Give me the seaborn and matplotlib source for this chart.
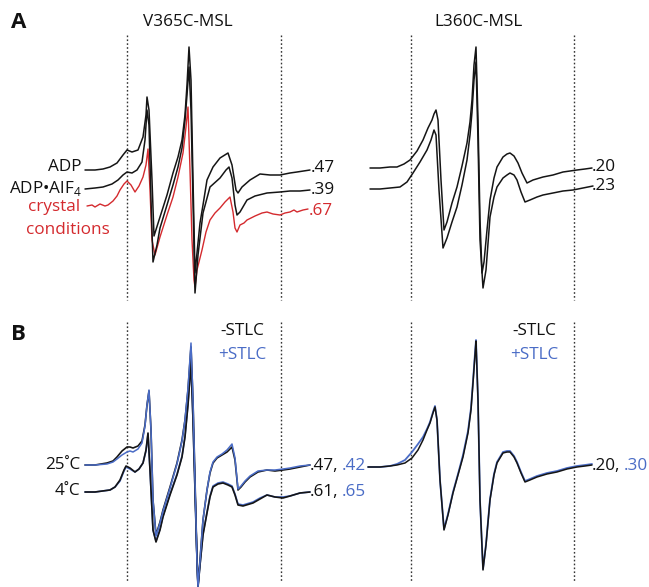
import matplotlib
matplotlib.use("Agg")
import matplotlib.pyplot as plt
import seaborn as sns

# -------------------------------
# Spectra (field px, signal px)
# -------------------------------

# A, V365C-MSL
adp_x = [85, 95, 103, 110, 117, 123, 127, 132, 138, 143, 146, 147, 149, 152, 154, 160, 167, 173, 178, 182,
         185, 187, 189, 191, 193, 195, 200, 203, 207, 213, 220, 228, 232, 236, 238, 242, 250, 260, 270, 280,
         290, 297, 310]
adp_y = [170, 170, 169, 167, 163, 155, 150, 152, 150, 137, 115, 97, 110, 180, 236, 217, 195, 173, 157, 140,
         115, 85, 47, 80, 180, 273, 223, 205, 180, 167, 158, 153, 165, 190, 193, 187, 180, 174, 175, 175,
         173, 172, 170]

alf_x = [85, 95, 103, 112, 118, 123, 127, 132, 137, 142, 145, 147, 149, 151, 153, 157, 160, 167, 173, 178,
         182, 185, 187, 189, 191, 193, 195, 198, 203, 210, 220, 226, 229, 232, 235, 237, 240, 247, 255, 267,
         280, 290, 300, 310]
alf_y = [189, 188, 187, 184, 180, 175, 172, 173, 170, 162, 140, 110, 125, 200, 262, 245, 228, 205, 185, 167,
         148, 120, 95, 67, 110, 200, 293, 255, 213, 187, 178, 170, 167, 178, 205, 215, 212, 200, 196, 193,
         192, 191, 191, 190]

cry_x = [87, 92, 95, 100, 105, 108, 113, 117, 120, 124, 127, 131, 135, 139, 143, 146, 148, 150, 152, 155,
         160, 167, 173, 178, 183, 186, 188, 190, 192, 194, 195, 197, 200, 202, 206, 210, 215, 220, 225,
         230, 233, 235, 237, 240, 244, 247, 251, 255, 262, 267, 273, 280, 285, 290, 294, 297, 303, 308]
cry_y = [206, 205, 207, 204, 206, 205, 201, 196, 190, 184, 181, 185, 192, 186, 177, 165, 149, 190, 240, 255,
         237, 215, 197, 177, 153, 127, 107, 170, 240, 280, 287, 270, 258, 250, 232, 220, 213, 208, 202,
         197, 212, 228, 232, 225, 223, 220, 218, 216, 213, 212, 214, 215, 213, 212, 210, 212, 210, 209]

# A, L360C-MSL
l360_top_x = [370, 380, 390, 397, 404, 410, 417, 423, 428, 432, 434, 436, 438, 441, 444, 447, 452, 457, 462, 467,
              470, 472, 474, 476, 478, 480, 482, 484, 487, 490, 494, 497, 503, 507, 510, 514, 518, 522, 527, 533,
              543, 553, 563, 570, 577, 585, 592]
l360_top_y = [168, 168, 167, 167, 164, 160, 151, 140, 128, 120, 114, 110, 120, 180, 230, 222, 203, 187, 166, 143,
              122, 100, 65, 47, 120, 220, 273, 262, 230, 200, 178, 167, 157, 154, 153, 156, 163, 173, 183, 180,
              177, 175, 172, 171, 170, 169, 168]

l360_low_x = [370, 380, 390, 400, 407, 413, 420, 427, 431, 434, 436, 439, 443, 447, 452, 457, 462, 467, 470, 472,
              474, 476, 478, 480, 483, 486, 490, 494, 497, 503, 507, 510, 514, 517, 521, 525, 530, 537, 543, 553,
              563, 573, 583, 593]
l360_low_y = [189, 189, 188, 187, 182, 173, 162, 150, 140, 130, 135, 190, 248, 238, 222, 207, 185, 160, 135, 112,
              80, 62, 140, 240, 288, 270, 217, 197, 187, 178, 175, 173, 175, 180, 192, 202, 200, 197, 195, 193,
              191, 190, 188, 186]

# B, V365C-MSL
v25_x = [85, 95, 107, 113, 117, 122, 127, 130, 133, 138, 142, 145, 147, 149, 151, 153, 156, 160, 163, 170,
         177, 182, 185, 188, 191, 193, 195, 197, 198, 200, 203, 207, 210, 213, 217, 222, 227, 232, 235, 238,
         241, 245, 250, 258, 267, 275, 283, 290, 300, 310]
v25_minus_y = [465, 465, 463, 461, 457, 451, 447, 447, 448, 446, 441, 425, 405, 391, 430, 500, 535, 522, 510, 487,
               463, 440, 420, 390, 347, 400, 480, 560, 585, 560, 520, 490, 473, 463, 458, 455, 452, 447, 460, 490,
               487, 482, 477, 472, 470, 471, 470, 469, 467, 465]
v25_plus_y = [465, 465, 464, 462, 459, 455, 452, 451, 452, 449, 443, 426, 405, 390, 430, 500, 536, 523, 511, 488,
              464, 441, 420, 388, 343, 400, 482, 562, 587, 561, 520, 490, 472, 462, 457, 454, 450, 444, 458, 489,
              486, 481, 476, 471, 470, 470, 469, 468, 466, 465]

v4_x = [85, 95, 110, 115, 120, 124, 126, 130, 135, 139, 143, 146, 148, 150, 153, 156, 160, 163, 170, 177,
        182, 185, 188, 191, 193, 195, 197, 198, 200, 203, 207, 210, 213, 218, 223, 228, 232, 235, 238, 243,
        253, 260, 267, 275, 283, 290, 300, 310]
v4_minus_y = [492, 492, 490, 487, 480, 470, 466, 468, 472, 469, 463, 450, 433, 470, 530, 542, 530, 517, 495, 475,
              457, 437, 405, 363, 420, 490, 560, 587, 565, 535, 513, 497, 487, 484, 483, 485, 487, 495, 505, 506,
              503, 499, 495, 497, 498, 496, 493, 492]
v4_plus_y = [492, 492, 490, 487, 481, 471, 467, 469, 472, 469, 463, 451, 434, 470, 530, 541, 529, 516, 494, 474,
             456, 436, 404, 362, 420, 491, 561, 587, 565, 534, 512, 496, 486, 483, 482, 484, 486, 494, 504, 505,
             502, 498, 495, 497, 497, 496, 493, 492]

# B, L360C-MSL
l360b_x = [368, 380, 390, 397, 405, 412, 418, 423, 427, 430, 433, 435, 437, 440, 444, 448, 453, 458, 463, 468,
           471, 473, 475, 476, 478, 480, 483, 486, 490, 494, 497, 503, 507, 510, 514, 517, 521, 525, 530, 537,
           547, 557, 567, 577, 585, 592]
l360b_minus_y = [467, 467, 466, 465, 463, 458, 450, 440, 430, 423, 413, 407, 420, 480, 530, 515, 493, 475, 457, 433,
                 410, 383, 355, 341, 400, 500, 570, 545, 500, 475, 463, 453, 452, 452, 457, 463, 473, 482, 480, 477,
                 474, 472, 469, 467, 466, 465]
l360b_plus_y = [467, 467, 466, 464, 460, 452, 444, 437, 429, 422, 412, 406, 420, 480, 529, 514, 492, 474, 455, 431,
                408, 381, 353, 340, 400, 500, 569, 544, 499, 474, 462, 452, 451, 451, 456, 462, 472, 481, 479, 476,
                473, 471, 468, 466, 465, 464]

# field markers (dotted lines)
marker_fields_left = [127, 281]
marker_fields_right = [411, 574]

# -------------------------------
# Style
# -------------------------------

sns.set_style("white")
plt.rcParams['font.family'] = ['Open Sans', 'DejaVu Sans']
plt.rcParams['mathtext.fontset'] = 'custom'
plt.rcParams['mathtext.rm'] = 'Open Sans'
plt.rcParams['text.color'] = '#111111'

RED = '#d42a2e'
BLUE = '#4a6cc6'
INK = '#151515'

fig = plt.figure(figsize=(6.49, 5.87), dpi=100)
ax = fig.add_axes([0, 0, 1, 1])
ax.set_xlim(0, 649)
ax.set_ylim(587, 0)
ax.axis('off')


def spectrum(x, y, color, lw):
    sns.lineplot(x=x, y=y, ax=ax, sort=False, estimator=None, color=color, linewidth=lw)


# dotted field markers
for top, bottom in [(35, 300), (322, 582)]:
    ax.vlines(marker_fields_left + marker_fields_right, top, bottom,
              colors='#333333', linestyles=(0, (1.2, 1.6)), linewidth=1.0)

# -------------------------------
# Panel A
# -------------------------------

spectrum(cry_x, cry_y, RED, 1.0)
spectrum(alf_x, alf_y, INK, 1.1)
spectrum(adp_x, adp_y, INK, 1.1)
spectrum(l360_low_x, l360_low_y, INK, 1.1)
spectrum(l360_top_x, l360_top_y, INK, 1.1)

fs = 12.3
ax.text(11, 22, 'A', fontsize=16, fontweight='bold', va='center')
ax.text(188, 22, 'V365C-MSL', fontsize=fs, ha='center', va='center')
ax.text(478, 22, 'L360C-MSL', fontsize=fs, ha='center', va='center')

ax.text(82, 167, 'ADP', fontsize=fs, ha='right', va='center')
ax.text(82, 188, r'ADP•AlF$_\mathregular{4}$', fontsize=fs, ha='right', va='center')
ax.text(80, 207, 'crystal', fontsize=fs, ha='right', va='center', color=RED)
ax.text(110, 230, 'conditions', fontsize=fs, ha='right', va='center', color=RED)

ax.text(311, 168, '.47', fontsize=fs, va='center')
ax.text(311, 190, '.39', fontsize=fs, va='center')
ax.text(309, 211, '.67', fontsize=fs, va='center', color=RED)
ax.text(592, 167, '.20', fontsize=fs, va='center')
ax.text(592, 186, '.23', fontsize=fs, va='center')

# -------------------------------
# Panel B
# -------------------------------

spectrum(v4_x, v4_plus_y, BLUE, 1.2)
spectrum(v4_x, v4_minus_y, INK, 1.2)
spectrum(v25_x, v25_minus_y, INK, 1.2)
spectrum(v25_x, v25_plus_y, BLUE, 1.1)
spectrum(l360b_x, l360b_plus_y, BLUE, 1.3)
spectrum(l360b_x, l360b_minus_y, INK, 1.1)

ax.text(11, 335, 'B', fontsize=16, fontweight='bold', va='center')
for cx in [242, 534]:
    ax.text(cx, 331, '-STLC', fontsize=fs, ha='center', va='center')
    ax.text(cx, 355, '+STLC', fontsize=fs, ha='center', va='center', color=BLUE)

ax.text(80, 465, '25˚C', fontsize=fs, ha='right', va='center')
ax.text(80, 491, '4˚C', fontsize=fs, ha='right', va='center')

ax.text(310, 466, '.47,', fontsize=fs, va='center')
ax.text(342, 466, '.42', fontsize=fs, va='center', color=BLUE)
ax.text(310, 492, '.61,', fontsize=fs, va='center')
ax.text(342, 492, '.65', fontsize=fs, va='center', color=BLUE)
ax.text(592, 466, '.20,', fontsize=fs, va='center')
ax.text(624, 466, '.30', fontsize=fs, va='center', color=BLUE)

fig.savefig('out.png', dpi=100)
